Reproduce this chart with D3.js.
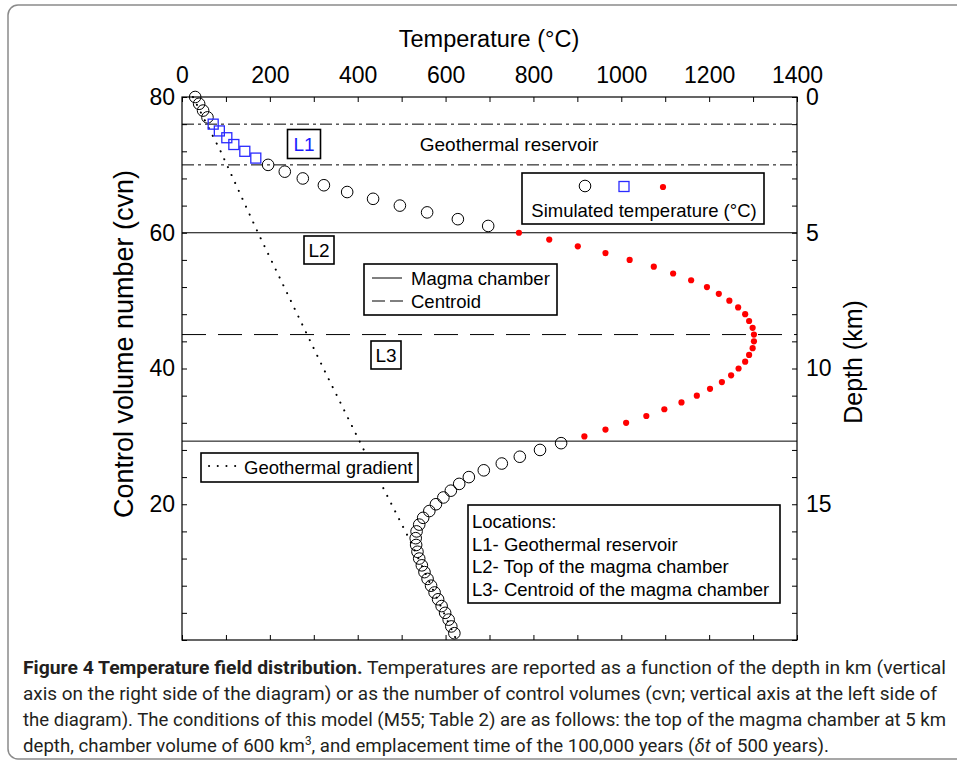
<!DOCTYPE html>
<html>
<head>
<meta charset="utf-8">
<script src="https://cdn.jsdelivr.net/npm/d3@7"></script>
<style>
  body { margin: 0; background: #fff; }
  svg { display: block; }
  text { font-family: "Liberation Sans", Arial, sans-serif; fill: #000; }
</style>
</head>
<body>
<div id="chart"></div>
<script>
// Temperature (°C) per control volume number (cvn)
const circleCvn = [80, 79, 78, 77,
  70, 69, 68, 67, 66, 65, 64, 63, 62, 61,
  29, 28, 27, 26, 25, 24, 23, 22, 21, 20, 19, 18, 17, 16, 15,
  14, 13, 12, 11, 10, 9, 8, 7, 6, 5, 4, 3, 2, 1];
const circleTemp = [30, 39, 48, 58,
  196, 234, 275, 323, 376, 435, 496, 558, 628, 697,
  863, 815, 769, 728, 687, 653, 631, 612, 595, 578, 563, 549, 540, 534, 532,
  533, 536, 540, 546, 552, 559, 567, 575, 583, 591, 599, 607, 613, 620];

// reservoir cells (blue squares)
const squareCvn = [76, 75, 74, 73, 72, 71];
const squareTemp = [71, 85, 102, 118, 143, 168];

// magma chamber cells (red dots)
const redCvn = [60, 59, 58, 57, 56, 55, 54, 53, 52, 51, 50, 49, 48, 47, 46,
  45, 44, 43, 42, 41, 40, 39, 38, 37, 36, 35, 34, 33, 32, 31, 30];
const redTemp = [767, 836, 901, 964, 1019, 1074, 1118, 1159, 1195, 1222, 1246, 1266, 1282, 1291, 1299,
  1302, 1302, 1299, 1291, 1282, 1267, 1250, 1229, 1202, 1172, 1137, 1098, 1057, 1011, 964, 916];

// geothermal gradient (depth km -> °C)
const gradDepth = [0, 2, 5, 10, 13, 16.3, 20];
const gradTemp = [25, 88, 173, 322, 414, 518, 625];

// horizontal reference levels (cvn)
const reservoirCvn = [76, 70];
const chamberCvn = [60, 29.3];
const centroidCvn = [45];

const tempTicks = d3.range(0, 1401, 100);
const cvnTicks = d3.range(0, 81, 4);
const depthTicks = d3.range(0, 21, 1);

const W = 957, H = 765;
const svg = d3.select("#chart").append("svg")
  .attr("width", W).attr("height", H);

// panel border
svg.append("rect")
  .attr("x", 8).attr("y", 5).attr("width", 980).attr("height", 754)
  .attr("rx", 10)
  .attr("fill", "none").attr("stroke", "#8a8a8a").attr("stroke-width", 1.5);

const pLeft = 182, pRight = 797, pTop = 97, pBottom = 640;

const x = d3.scaleLinear().domain([0, 1400]).range([pLeft, pRight]);
const y = d3.scaleLinear().domain([0, 80]).range([pBottom, pTop]);
const yD = d3.scaleLinear().domain([0, 20]).range([pTop, pBottom]);

const g = svg.append("g");

// reference lines
const hline = (cvn, dash) => g.append("line")
  .attr("x1", pLeft).attr("x2", pRight)
  .attr("y1", y(cvn)).attr("y2", y(cvn))
  .attr("stroke", "#000").attr("stroke-width", 1)
  .attr("stroke-dasharray", dash);

reservoirCvn.forEach(c => hline(c, "12,4,3,4"));
chamberCvn.forEach(c => hline(c, null));
centroidCvn.forEach(c => hline(c, "24,12"));

// geothermal gradient
const gradData = gradDepth.map((d, i) => ({ depth: d, temp: gradTemp[i] }));
g.append("path")
  .datum(gradData)
  .attr("fill", "none")
  .attr("stroke", "#000")
  .attr("stroke-width", 2)
  .attr("stroke-linecap", "round")
  .attr("stroke-dasharray", "0.1,8.6")
  .attr("d", d3.line().x(d => x(d.temp)).y(d => yD(d.depth)));

// simulated temperature
g.selectAll(".circ")
  .data(circleCvn.map((c, i) => ({ cvn: c, temp: circleTemp[i] })))
  .join("circle")
  .attr("class", "circ")
  .attr("cx", d => x(d.temp)).attr("cy", d => y(d.cvn))
  .attr("r", 5.8)
  .attr("fill", "none").attr("stroke", "#000").attr("stroke-width", 1);

g.selectAll(".sq")
  .data(squareCvn.map((c, i) => ({ cvn: c, temp: squareTemp[i] })))
  .join("rect")
  .attr("class", "sq")
  .attr("x", d => x(d.temp) - 5).attr("y", d => y(d.cvn) - 5)
  .attr("width", 10).attr("height", 10)
  .attr("fill", "none").attr("stroke", "#2b2bff").attr("stroke-width", 1.3);

g.selectAll(".red")
  .data(redCvn.map((c, i) => ({ cvn: c, temp: redTemp[i] })))
  .join("circle")
  .attr("class", "red")
  .attr("cx", d => x(d.temp)).attr("cy", d => y(d.cvn))
  .attr("r", 3.1)
  .attr("fill", "#ff0000");

// axes (ticks pointing inward)
const fmtTemp = d => d % 200 === 0 ? d : "";
const axTop = svg.append("g").attr("transform", `translate(0,${pTop})`)
  .call(d3.axisTop(x).tickValues(tempTicks).tickSize(-5).tickPadding(14).tickFormat(fmtTemp));
const axBottom = svg.append("g").attr("transform", `translate(0,${pBottom})`)
  .call(d3.axisBottom(x).tickValues(tempTicks).tickSize(-5).tickFormat(""));
const axLeft = svg.append("g").attr("transform", `translate(${pLeft},0)`)
  .call(d3.axisLeft(y).tickValues(cvnTicks).tickSize(-5).tickPadding(7)
    .tickFormat(d => d % 20 === 0 && d > 0 ? d : ""));
const axRight = svg.append("g").attr("transform", `translate(${pRight},0)`)
  .call(d3.axisRight(yD).tickValues(depthTicks).tickSize(-5).tickPadding(9)
    .tickFormat(d => d % 5 === 0 && d < 20 ? d : ""));

[axTop, axBottom, axLeft, axRight].forEach(a => {
  a.select(".domain").remove();
  a.selectAll("line").attr("stroke", "#000");
  a.selectAll("text")
    .style("font-family", "Liberation Sans, Arial, sans-serif")
    .style("font-size", "23px").attr("fill", "#000");
});

svg.append("rect")
  .attr("x", pLeft).attr("y", pTop)
  .attr("width", pRight - pLeft).attr("height", pBottom - pTop)
  .attr("fill", "none").attr("stroke", "#000").attr("stroke-width", 1.2);

// axis titles
svg.append("text")
  .attr("x", 489).attr("y", 47)
  .attr("text-anchor", "middle")
  .style("font-size", "23.5px")
  .text("Temperature (°C)");

svg.append("text")
  .attr("transform", "translate(133,344) rotate(-90)")
  .attr("text-anchor", "middle")
  .style("font-size", "27px")
  .text("Control volume number (cvn)");

svg.append("text")
  .attr("transform", "translate(862,362) rotate(-90)")
  .attr("text-anchor", "middle")
  .style("font-size", "25px")
  .text("Depth (km)");

// annotations
svg.append("text")
  .attr("x", 509).attr("y", 151)
  .attr("text-anchor", "middle")
  .style("font-size", "19px")
  .text("Geothermal reservoir");

const labelBox = (cx, cy, w, h, txt, color) => {
  svg.append("rect")
    .attr("x", cx - w / 2).attr("y", cy - h / 2)
    .attr("width", w).attr("height", h)
    .attr("fill", "#fff").attr("stroke", "#000").attr("stroke-width", 1.6);
  svg.append("text")
    .attr("x", cx).attr("y", cy + 7)
    .attr("text-anchor", "middle")
    .style("font-size", "19px")
    .style("fill", color)
    .text(txt);
};
labelBox(304, 144, 33, 29, "L1", "#1a1aff");
labelBox(319, 250, 30, 28, "L2", "#000");
labelBox(386, 355, 30, 28, "L3", "#000");

// legend: simulated temperature
svg.append("rect")
  .attr("x", 522).attr("y", 173).attr("width", 242).attr("height", 51)
  .attr("fill", "#fff").attr("stroke", "#000").attr("stroke-width", 1.6);
svg.append("circle").attr("cx", 585).attr("cy", 186).attr("r", 5.8)
  .attr("fill", "none").attr("stroke", "#000");
svg.append("rect").attr("x", 619).attr("y", 181.5).attr("width", 10).attr("height", 10)
  .attr("fill", "none").attr("stroke", "#2b2bff").attr("stroke-width", 1.3);
svg.append("circle").attr("cx", 663).attr("cy", 187).attr("r", 3.1).attr("fill", "#ff0000");
svg.append("text")
  .attr("x", 644).attr("y", 217)
  .attr("text-anchor", "middle")
  .style("font-size", "18.5px")
  .text("Simulated temperature (°C)");

// legend: magma chamber / centroid
svg.append("rect")
  .attr("x", 364).attr("y", 264).attr("width", 193).attr("height", 51)
  .attr("fill", "#fff").attr("stroke", "#000").attr("stroke-width", 1.6);
svg.append("line").attr("x1", 372).attr("x2", 402).attr("y1", 278).attr("y2", 278)
  .attr("stroke", "#000");
svg.append("line").attr("x1", 372).attr("x2", 403).attr("y1", 301).attr("y2", 301)
  .attr("stroke", "#000").attr("stroke-dasharray", "13,5");
svg.append("text").attr("x", 411).attr("y", 285).style("font-size", "18.5px").text("Magma chamber");
svg.append("text").attr("x", 411).attr("y", 308).style("font-size", "18.5px").text("Centroid");

// legend: geothermal gradient
svg.append("rect")
  .attr("x", 201).attr("y", 453).attr("width", 217).attr("height", 29)
  .attr("fill", "#fff").attr("stroke", "#000").attr("stroke-width", 1.6);
svg.append("line").attr("x1", 209).attr("x2", 238).attr("y1", 466).attr("y2", 466)
  .attr("stroke", "#000").attr("stroke-width", 2)
  .attr("stroke-linecap", "round").attr("stroke-dasharray", "0.1,8.6");
svg.append("text").attr("x", 244).attr("y", 474).style("font-size", "18.5px").text("Geothermal gradient");

// legend: locations
svg.append("rect")
  .attr("x", 468).attr("y", 505).attr("width", 312).attr("height", 98)
  .attr("fill", "#fff").attr("stroke", "#000").attr("stroke-width", 1.6);
const locLines = ["Locations:", "L1- Geothermal reservoir", "L2- Top of the magma chamber", "L3- Centroid of the magma chamber"];
svg.selectAll(".loc").data(locLines).join("text")
  .attr("class", "loc")
  .attr("x", 472).attr("y", (d, i) => 528 + i * 22.7)
  .style("font-size", "18.5px")
  .text(d => d);

// caption
const cap = svg.append("g");
const capFont = "Roboto, 'Open Sans', sans-serif";
const capLine = (yy, len) => cap.append("text")
  .attr("x", 23).attr("y", yy)
  .attr("textLength", len).attr("lengthAdjust", "spacingAndGlyphs")
  .style("font-family", capFont).style("font-size", "19px").style("fill", "#231f20");

let t1 = capLine(674, 923);
t1.append("tspan").style("font-weight", "bold").text("Figure 4 Temperature field distribution.");
t1.append("tspan").text(" Temperatures are reported as a function of the depth in km (vertical");

capLine(700, 914).text("axis on the right side of the diagram) or as the number of control volumes (cvn; vertical axis at the left side of");
capLine(726, 923).text("the diagram). The conditions of this model (M55; Table 2) are as follows: the top of the magma chamber at 5 km");

let t4 = capLine(752, 806);
t4.append("tspan").text("depth, chamber volume of 600 km");
t4.append("tspan").attr("dy", -7).style("font-size", "12px").text("3");
t4.append("tspan").attr("dy", 7).text(", and emplacement time of the 100,000 years (");
t4.append("tspan").style("font-style", "italic").text("δt");
t4.append("tspan").text(" of 500 years).");
</script>
</body>
</html>
